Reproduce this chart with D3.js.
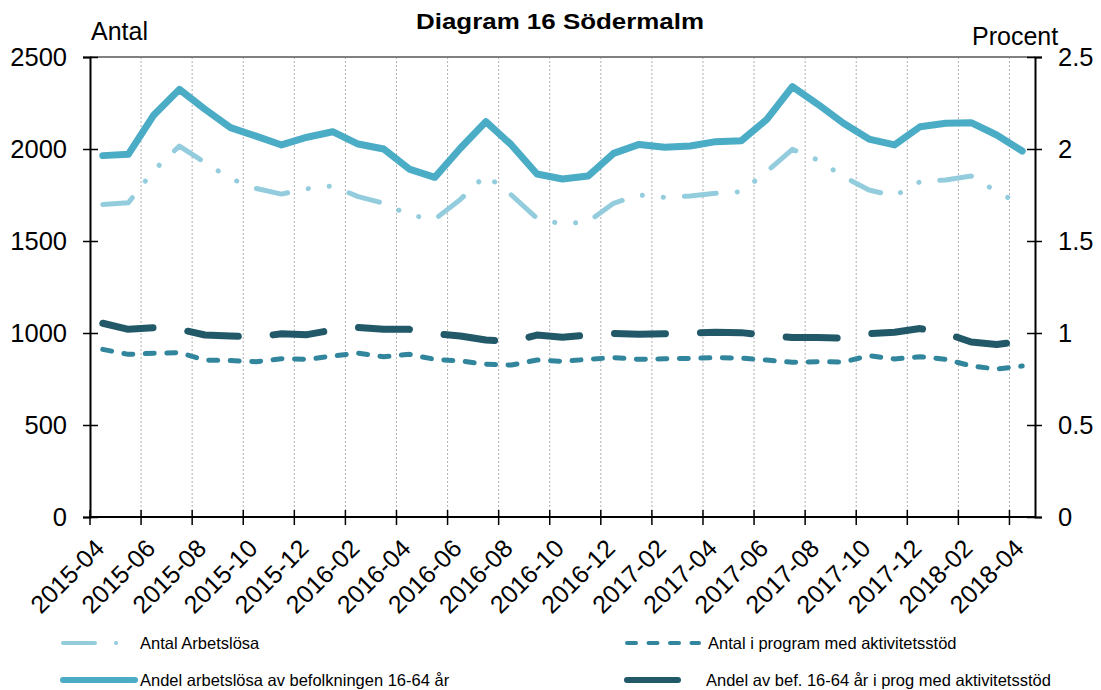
<!DOCTYPE html>
<html>
<head>
<meta charset="utf-8">
<script src="https://cdn.jsdelivr.net/npm/d3@7"></script>
<style>
  body { margin: 0; background: #fff; }
  text { font-family: "Liberation Sans", Arial, sans-serif; fill: #000; }
</style>
</head>
<body>
<div id="chart"></div>
<script>
// months (categories)
var months = ["2015-04","2015-05","2015-06","2015-07","2015-08","2015-09","2015-10","2015-11","2015-12",
  "2016-01","2016-02","2016-03","2016-04","2016-05","2016-06","2016-07","2016-08","2016-09","2016-10","2016-11","2016-12",
  "2017-01","2017-02","2017-03","2017-04","2017-05","2017-06","2017-07","2017-08","2017-09","2017-10","2017-11","2017-12",
  "2018-01","2018-02","2018-03","2018-04"];

// left axis (Antal)
var antalArbetslosa = [1699,1708,1884,2016,1926,1839,1786,1755,1784,1799,1741,1705,1641,1618,1726,1859,1750,1623,
  1592,1605,1705,1750,1737,1745,1759,1768,1877,1998,1940,1850,1777,1745,1822,1832,1853,1768,1696];
var antalProgram = [911,884,890,893,853,850,844,860,857,875,890,871,884,857,848,830,826,853,
  846,857,866,857,860,862,866,864,853,841,844,842,877,859,871,857,821,804,821];

// right axis (Procent)
var andelArbetslosa = [1.964,1.971,2.185,2.324,2.216,2.116,2.07,2.022,2.064,2.094,2.027,2.0,1.891,1.846,2.004,2.149,2.022,1.864,
  1.837,1.853,1.976,2.025,2.009,2.016,2.04,2.045,2.161,2.339,2.243,2.14,2.054,2.022,2.121,2.14,2.143,2.076,1.989];
var andelProgram = [1.053,1.02,1.029,1.02,0.989,0.984,0.977,0.996,0.991,1.016,1.03,1.02,1.02,0.996,0.984,0.962,0.953,0.989,
  0.977,0.989,0.998,0.993,0.996,1.0,1.004,1.002,0.987,0.975,0.975,0.973,0.996,1.004,1.024,0.998,0.951,0.938,0.955];

var leftTicks = [0,500,1000,1500,2000,2500];
var rightTicks = [0,0.5,1,1.5,2,2.5];

var w = 1101, h = 690;
var plot = {left: 90, right: 1035, top: 57, bottom: 517};

var svg = d3.select("#chart").append("svg")
  .attr("width", w).attr("height", h);

var x = d3.scaleBand().domain(months).range([plot.left, plot.right]).paddingInner(0).paddingOuter(0);
var bw = x.bandwidth();
var yL = d3.scaleLinear().domain([0, 2500]).range([plot.bottom, plot.top]);
var yR = d3.scaleLinear().domain([0, 2.5]).range([plot.bottom, plot.top]);

var labelMonths = months.filter(function(d, i){ return i % 2 == 0; });

// vertical dotted gridlines
svg.append("g").selectAll("line")
  .data(labelMonths.slice(1))
  .enter().append("line")
  .attr("x1", function(d){ return x(d); })
  .attr("x2", function(d){ return x(d); })
  .attr("y1", plot.top).attr("y2", plot.bottom)
  .attr("stroke", "#b0b0b0").attr("stroke-width", 1)
  .attr("stroke-dasharray", "2,2");

// top border
svg.append("line")
  .attr("x1", plot.left).attr("x2", plot.right).attr("y1", plot.top).attr("y2", plot.top)
  .attr("stroke", "#808080").attr("stroke-width", 2);

// left axis
var axL = svg.append("g").attr("transform", "translate(" + plot.left + ",0)")
  .call(d3.axisLeft(yL).tickValues(leftTicks).tickSize(7).tickPadding(16).tickFormat(d3.format("d")));
axL.select(".domain").attr("stroke", "#000").attr("stroke-width", 2);
axL.selectAll(".tick line").attr("x1", 8).attr("stroke", "#000").attr("stroke-width", 1.5);
axL.selectAll(".tick text").attr("font-size", "25.5px").attr("font-family", "Liberation Sans, Arial, sans-serif").attr("fill", "#000");

// right axis
var axR = svg.append("g").attr("transform", "translate(" + plot.right + ",0)")
  .call(d3.axisRight(yR).tickValues(rightTicks).tickSize(7).tickPadding(16).tickFormat(function(d){ return String(d); }));
axR.select(".domain").attr("stroke", "#000").attr("stroke-width", 2);
axR.selectAll(".tick line").attr("x1", -8).attr("stroke", "#000").attr("stroke-width", 1.5);
axR.selectAll(".tick text").attr("font-size", "25.5px").attr("font-family", "Liberation Sans, Arial, sans-serif").attr("fill", "#000");

// bottom axis
svg.append("line")
  .attr("x1", plot.left).attr("x2", plot.right).attr("y1", plot.bottom).attr("y2", plot.bottom)
  .attr("stroke", "#000").attr("stroke-width", 2);
svg.append("g").selectAll("line")
  .data(labelMonths)
  .enter().append("line")
  .attr("x1", function(d){ return x(d); })
  .attr("x2", function(d){ return x(d); })
  .attr("y1", plot.bottom - 7).attr("y2", plot.bottom + 8)
  .attr("stroke", "#000").attr("stroke-width", 1.5);
svg.append("g").selectAll("text")
  .data(labelMonths)
  .enter().append("text")
  .attr("text-anchor", "end")
  .attr("font-size", "25px")
  .attr("transform", function(d){ return "translate(" + (x(d) + bw / 2 + 3) + "," + (plot.bottom + 33) + ") rotate(-45)"; })
  .text(function(d){ return d; });

// lines
function drawLine(values, scale, color, width, dash){
  var line = d3.line()
    .x(function(d, i){ return x(months[i]) + bw / 2; })
    .y(function(d){ return scale(d); });
  var p = svg.append("path")
    .datum(values)
    .attr("d", line)
    .attr("fill", "none")
    .attr("stroke", color)
    .attr("stroke-width", width)
    .attr("stroke-linecap", "round")
    .attr("stroke-linejoin", "round");
  if(dash) p.attr("stroke-dasharray", dash);
}

var series = [
  {name: "Antal Arbetslösa", color: "#93cddd", width: 5, dash: "32,21,0.1,21,0.1,21", lx: 63, ly: 643, tx: 140},
  {name: "Antal i program med aktivitetsstöd", color: "#31859c", width: 5, dash: "9,12.5", lx: 627, ly: 643, tx: 708},
  {name: "Andel arbetslösa av befolkningen 16-64 år", color: "#4bacc6", width: 7, dash: null, lx: 63, ly: 680, tx: 140},
  {name: "Andel av bef. 16-64 år i prog med aktivitetsstöd", color: "#215968", width: 7, dash: "51,35", lx: 627, ly: 680, tx: 706}
];

drawLine(antalArbetslosa, yL, series[0].color, series[0].width, series[0].dash);
drawLine(antalProgram, yL, series[1].color, series[1].width, series[1].dash);
drawLine(andelArbetslosa, yR, series[2].color, series[2].width, series[2].dash);
drawLine(andelProgram, yR, series[3].color, series[3].width, series[3].dash);

// legend
var leg = svg.append("g").selectAll("g")
  .data(series)
  .enter().append("g");
leg.append("line")
  .attr("x1", function(d){ return d.lx; })
  .attr("x2", function(d){ return d.lx + 72; })
  .attr("y1", function(d){ return d.ly; })
  .attr("y2", function(d){ return d.ly; })
  .attr("stroke", function(d){ return d.color; })
  .attr("stroke-width", function(d){ return d.width - 1; })
  .attr("stroke-linecap", "round")
  .attr("stroke-dasharray", function(d){ return d.dash; });
leg.append("text")
  .attr("x", function(d){ return d.tx; })
  .attr("y", function(d){ return d.ly; })
  .attr("dy", "0.35em")
  .attr("font-size", "16.5px")
  .text(function(d){ return d.name; });

// titles
svg.append("text")
  .attr("x", 560).attr("y", 29)
  .attr("text-anchor", "middle")
  .attr("font-size", "22px").attr("font-weight", "bold")
  .attr("textLength", 288).attr("lengthAdjust", "spacingAndGlyphs")
  .text("Diagram 16 Södermalm");
svg.append("text")
  .attr("x", 91).attr("y", 40)
  .attr("font-size", "25px")
  .text("Antal");
svg.append("text")
  .attr("x", 972).attr("y", 45)
  .attr("font-size", "25px")
  .text("Procent");
</script>
</body>
</html>
